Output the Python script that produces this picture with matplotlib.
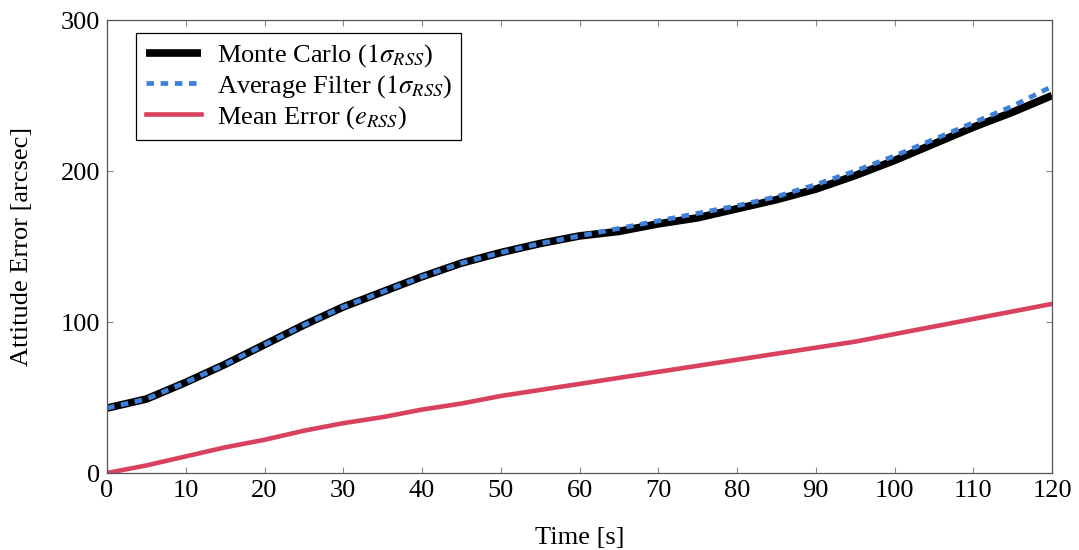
import numpy as np
from matplotlib import pyplot as plt

plt.rcParams['font.family'] = ['Liberation Serif', 'DejaVu Serif']
plt.rcParams['mathtext.fontset'] = 'stix'

time_s = [0, 5, 10, 15, 20, 25, 30, 35, 40, 45, 50, 55, 60,
          65, 70, 75, 80, 85, 90, 95, 100, 105, 110, 115, 120]
monte_carlo = [43, 49, 60, 72, 85, 98, 110, 120, 130, 139, 146, 152, 157,
               160, 165, 169, 175, 181, 188, 197, 207, 218, 229, 239, 250]
avg_filter = [43, 49, 60, 72, 85, 98, 110, 120, 130, 139, 146, 152, 157,
              162, 167, 172, 177, 183, 191, 200, 210, 221, 232, 243, 256]
mean_error = [0, 5, 11, 17, 22, 28, 33, 37, 42, 46, 51, 55, 59,
              63, 67, 71, 75, 79, 83, 87, 92, 97, 102, 107, 112]

fs = 19

fig = plt.figure(figsize=(10.79, 5.5), dpi=100)
ax = fig.add_axes([0.0992, 0.14, 0.8758, 0.8236])

ax.plot(time_s, monte_carlo, color='black', lw=5.5, solid_capstyle='butt',
        label=r'Monte Carlo ($1\sigma_{RSS}$)')
ax.plot(time_s, avg_filter, color='#3E7FD9', lw=3.4, ls=(0, (1.6, 1.4)),
        label=r'Average Filter ($1\sigma_{RSS}$)')
ax.plot(time_s, mean_error, color='#D9425F', lw=3.3,
        label=r'Mean Error ($e_{RSS}$)')

ax.set_xlim(0, 120)
ax.set_ylim(0, 300)
ax.set_xticks(np.arange(0, 121, 10))
ax.set_yticks([0, 100, 200, 300])
ax.tick_params(direction='in', length=4, color='#888888', top=True, right=True,
               labelsize=fs, pad=5)
for s in ax.spines.values():
    s.set_color('#555555')
    s.set_linewidth(0.9)

ax.set_xlabel('Time [s]', fontsize=fs, labelpad=18)
ax.set_ylabel('Attitude Error [arcsec]', fontsize=fs, labelpad=20)

leg = ax.legend(loc='upper left', fontsize=fs, fancybox=False, framealpha=1,
                edgecolor='black', bbox_to_anchor=(0.031, 0.971),
                borderaxespad=0, handlelength=2.1,
                labelspacing=0.15, borderpad=0.35, handletextpad=0.6)
leg.get_frame().set_linewidth(0.9)

fig.savefig('out.png', dpi=100)
